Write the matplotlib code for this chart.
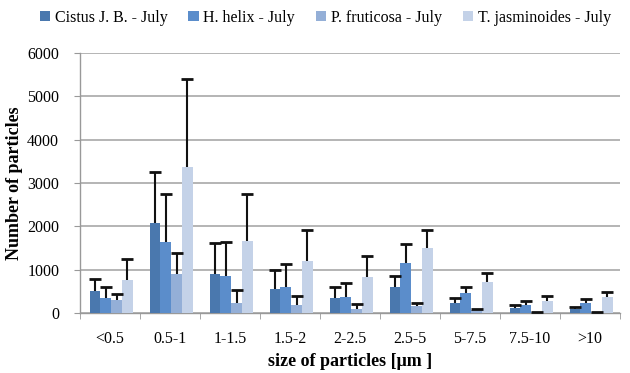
import numpy as np
import matplotlib
matplotlib.use('Agg')
import matplotlib.pyplot as plt

categories = ['<0.5', '0.5-1', '1-1.5', '1.5-2', '2-2.5', '2.5-5', '5-7.5', '7.5-10', '>10']
series = ['Cistus J. B. - July', 'H. helix - July', 'P. fruticosa - July', 'T. jasminoides - July']

cistus = [510, 2070, 895, 565, 350, 590, 240, 125, 85]
helix = [355, 1630, 865, 590, 370, 1160, 455, 180, 225]
fruticosa = [290, 900, 240, 180, 100, 165, 60, 15, 15]
jasmin = [770, 3380, 1670, 1200, 840, 1505, 705, 280, 370]

# upper error only (top of whisker)
cistus_top = [795, 3250, 1605, 990, 605, 860, 355, 180, 140]
helix_top = [590, 2750, 1645, 1120, 700, 1600, 610, 270, 320]
fruticosa_top = [450, 1375, 525, 395, 200, 225, 90, 30, 30]
jasmin_top = [1235, 5390, 2750, 1915, 1325, 1905, 915, 395, 475]

colors = ['#4a78ae', '#5b8dcb', '#94afd7', '#c4d2e8']

plt.rcParams['font.family'] = ['Liberation Serif', 'DejaVu Serif']

fig = plt.figure(figsize=(6.3, 3.73), dpi=100)
ax = fig.add_axes([80 / 630, 1 - 313 / 373, 540 / 630, 260 / 373])

x = np.arange(len(categories))
w = 0.18
values = [cistus, helix, fruticosa, jasmin]
tops = [cistus_top, helix_top, fruticosa_top, jasmin_top]
for i, (vals, top) in enumerate(zip(values, tops)):
    vals = np.array(vals)
    top = np.array(top)
    xs = x + (i - 1.5) * w + 0.02
    ax.bar(xs, vals, w, color=colors[i], label=series[i], zorder=3)
    # whisker going up only, with a cap at its top
    ax.vlines(xs, vals, top, color='#111111', linewidth=1.5, zorder=4)
    ax.plot(xs, top, linestyle='none', marker='_', markersize=9,
            markeredgewidth=2.0, color='#111111', zorder=4)

ax.set_xlim(-0.5, len(categories) - 0.5)
ax.set_ylim(0, 6000)
ax.set_yticks(range(0, 6001, 1000))
ax.yaxis.grid(True, color='#a8a8a8', linewidth=1.2, zorder=0)
ax.set_axisbelow(True)

ax.set_xticks(x)
ax.set_xticklabels(categories, fontsize=11.5)
ax.set_xticks(np.arange(-0.5, len(categories)), minor=True)
ax.tick_params(axis='x', which='major', length=0, pad=13)
ax.tick_params(axis='x', which='minor', length=4, color='#999999')
ax.tick_params(axis='y', length=4, color='#999999', labelsize=11.5, pad=11)

for s in ['top', 'right']:
    ax.spines[s].set_visible(False)
for s in ['left', 'bottom']:
    ax.spines[s].set_color('#999999')
    ax.spines[s].set_linewidth(1.0)

ax.set_xlabel('size of particles [μm ]', fontsize=13, fontweight='bold', labelpad=4)
ax.set_ylabel('Number of particles', fontsize=13, fontweight='bold', labelpad=3)

fig.legend(loc='upper left', bbox_to_anchor=(30 / 630, 1.0), ncol=4, frameon=False,
           fontsize=11.5, handlelength=0.65, handleheight=0.65, handletextpad=0.3,
           columnspacing=1.3, borderaxespad=0.2)

fig.savefig('out.png', dpi=100)
